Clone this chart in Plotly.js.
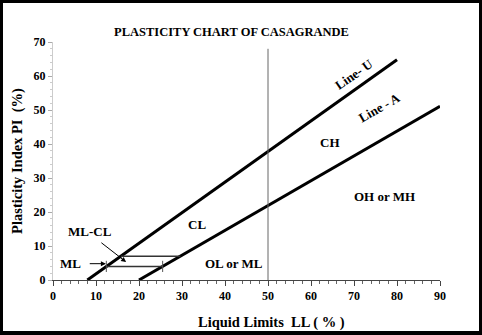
<!DOCTYPE html>
<html>
<head>
<meta charset="utf-8">
<script src="https://cdn.plot.ly/plotly-3.0.1.min.js"></script>
<style>
html,body{margin:0;padding:0;background:#fff;}
#frame{width:482px;height:335px;box-sizing:border-box;border:3px solid #000;border-bottom-width:4px;}
#chart{width:476px;height:328px;}
</style>
</head>
<body>
<div id="frame"><div id="chart"></div></div>
<script>
// Casagrande plasticity chart data
const lineU_LL = [8, 80];
const lineU_PI = [0, 64.8];
const lineA_LL = [20, 90];
const lineA_PI = [0, 51.1];
const boundary_LL = [50, 50];
const boundary_PI = [0, 68];
const mlBand4_LL = [12.4, 25.5];
const mlBand4_PI = [4, 4];
const mlBand7_LL = [15.8, 29.6];
const mlBand7_PI = [7, 7];
const xTicks = [0, 10, 20, 30, 40, 50, 60, 70, 80, 90];
const yTicks = [0, 10, 20, 30, 40, 50, 60, 70];
const zoneLabels = ["CL", "CH", "OH or MH", "OL or ML"];
const zoneLL = [33.5, 64.5, 77.2, 42.2];
const zonePI = [16.2, 40.5, 24.7, 5];

const serif = "Liberation Serif, Times New Roman, serif";

const traces = [
  {x: lineU_LL, y: lineU_PI, mode: "lines", line: {color: "#000", width: 3}, hoverinfo: "skip"},
  {x: lineA_LL, y: lineA_PI, mode: "lines", line: {color: "#000", width: 3}, hoverinfo: "skip"},
  {x: boundary_LL, y: boundary_PI, mode: "lines", line: {color: "#666", width: 1}, hoverinfo: "skip"},
  {x: mlBand4_LL, y: mlBand4_PI, mode: "lines+markers", line: {color: "#333", width: 1.5},
   marker: {symbol: "line-ns", size: 8, line: {color: "#555", width: 1}}, hoverinfo: "skip"},
  {x: mlBand7_LL, y: mlBand7_PI, mode: "lines", line: {color: "#333", width: 1.5}, hoverinfo: "skip"}
];

const font13 = {family: serif, size: 13, color: "#000"};
const annotations = zoneLabels.map((t, i) => ({
  x: zoneLL[i], y: zonePI[i], xref: "x", yref: "y", text: "<b>" + t + "</b>",
  showarrow: false, font: font13
}));
annotations.push(
  {x: 70, y: 60.3, xref: "x", yref: "y", text: "<b>Line- U</b>", showarrow: false, textangle: -35, font: font13},
  {x: 76, y: 50.6, xref: "x", yref: "y", text: "<b>Line - A</b>", showarrow: false, textangle: -30, font: font13},
  {x: 4, y: 4.8, xref: "x", yref: "y", text: "<b>ML</b>", showarrow: false, font: font13},
  {x: 12.3, y: 4.8, xref: "x", yref: "y", ax: 8.2, ay: 4.8, axref: "x", ayref: "y",
   text: "", showarrow: true, arrowhead: 2, arrowsize: 1, arrowwidth: 1, arrowcolor: "#000"},
  {x: 8.6, y: 14.4, xref: "x", yref: "y", text: "<b>ML-CL</b>", showarrow: false, font: font13},
  {x: 17, y: 5.3, xref: "x", yref: "y", ax: 10.9, ay: 11.3, axref: "x", ayref: "y",
   text: "", showarrow: true, arrowhead: 2, arrowsize: 1, arrowwidth: 1, arrowcolor: "#000"},
  {x: 0.565, y: -0.135, xref: "paper", yref: "paper", xanchor: "center", yanchor: "top",
   text: "<b>Liquid Limits  LL ( % )</b>", showarrow: false, font: {family: serif, size: 14.5, color: "#000"}}
);

const layout = {
  width: 476, height: 328,
  margin: {l: 50, r: 39, t: 39, b: 51},
  paper_bgcolor: "#fff", plot_bgcolor: "#fff",
  showlegend: false,
  title: {text: "<b>PLASTICITY CHART OF CASAGRANDE</b>", x: 0.48, xanchor: "center", y: 0.912, yanchor: "middle",
          font: {family: serif, size: 12.5, color: "#000"}},
  xaxis: {
    range: [0, 90], tickvals: xTicks, ticktext: xTicks.map(String),
    showgrid: false, zeroline: false, showline: true, linecolor: "#444", linewidth: 1,
    ticks: "outside", ticklen: 5, tickcolor: "#444",
    minor: {dtick: 2, ticks: "outside", ticklen: 3, tickcolor: "#666", showgrid: false},
    tickfont: {family: serif, size: 12, color: "#000", weight: "bold"}
  },
  yaxis: {
    range: [0, 70], tickvals: yTicks, ticktext: yTicks.map(String),
    showgrid: false, zeroline: false, showline: true, linecolor: "#ccc", linewidth: 1,
    ticks: "outside", ticklen: 4, tickcolor: "#aaa",
    minor: {dtick: 2, ticks: "outside", ticklen: 2, tickcolor: "#ccc", showgrid: false},
    tickfont: {family: serif, size: 12, color: "#000", weight: "bold"},
    title: {text: "<b>Plasticity Index PI  (%)</b>", font: {family: serif, size: 14.5, color: "#000"}, standoff: 7}
  },
  annotations: annotations
};

Plotly.newPlot("chart", traces, layout, {displayModeBar: false, staticPlot: true});
</script>
</body>
</html>
